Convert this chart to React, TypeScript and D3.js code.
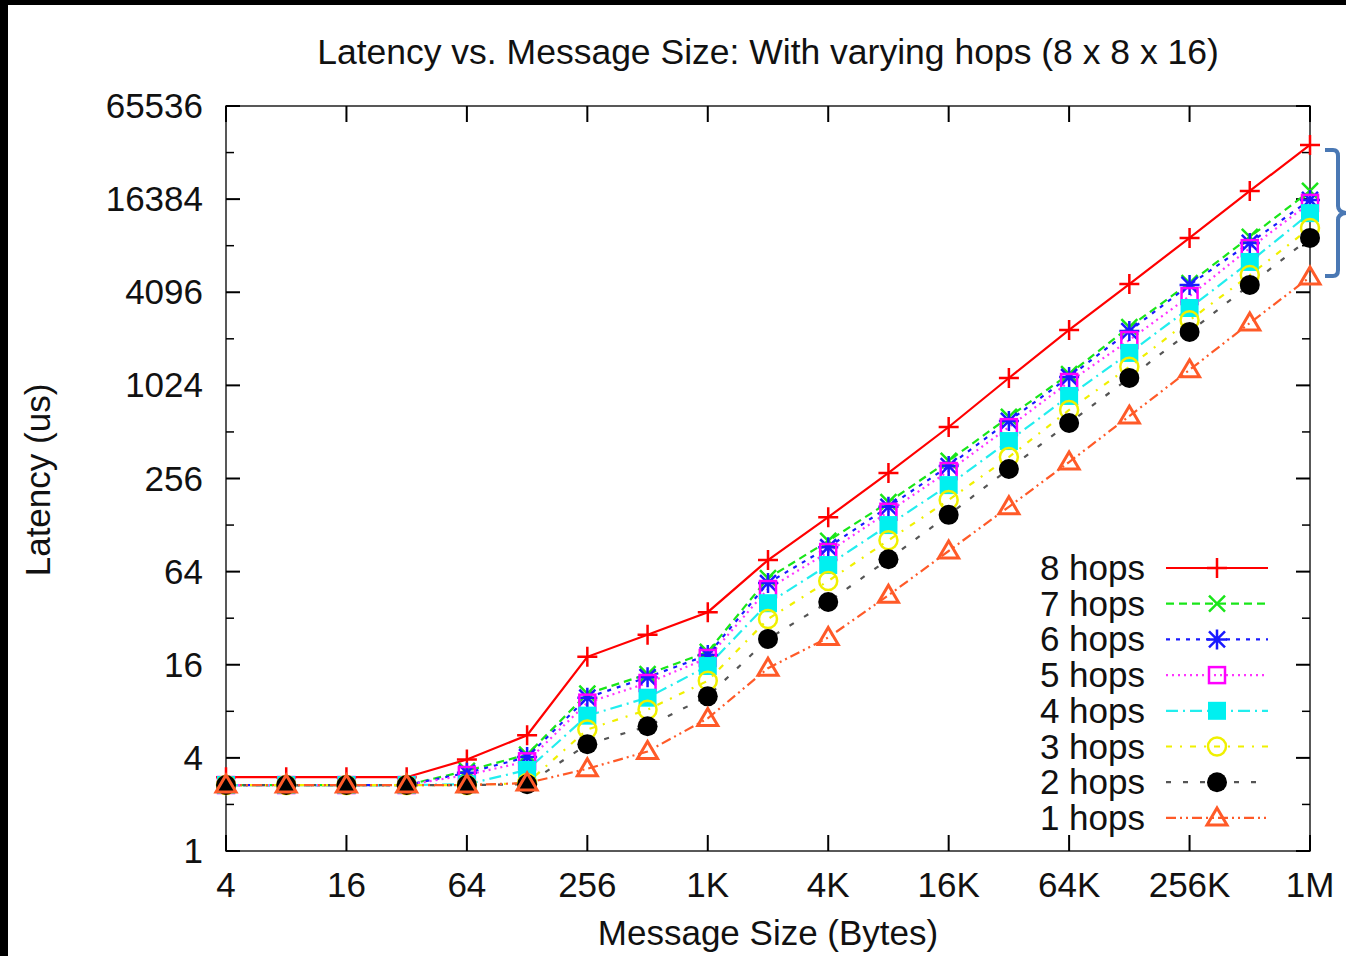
import React from "react";
import * as d3 from "d3";

const sizes = [4, 8, 16, 32, 64, 128, 256, 512, 1024, 2048, 4096, 8192, 16384, 32768, 65536, 131072, 262144, 524288, 1048576];
const xTickValues = [4, 16, 64, 256, 1024, 4096, 16384, 65536, 262144, 1048576];
const xTickLabels = ["4", "16", "64", "256", "1K", "4K", "16K", "64K", "256K", "1M"];
const yTickValues = [1, 4, 16, 64, 256, 1024, 4096, 16384, 65536];
const yMinorValues = [2, 8, 32, 128, 512, 2048, 8192, 32768];

const hops8 = [3.0, 3.0, 3.0, 3.0, 3.9, 5.6, 18, 25, 35, 76, 144, 278, 551, 1143, 2336, 4630, 9200, 18500, 36700];
const hops7 = [2.67, 2.67, 2.67, 2.67, 3.3, 4.2, 10.4, 13.9, 19.4, 58, 101, 180, 333, 640, 1212, 2440, 4700, 9330, 18500];
const hops6 = [2.67, 2.67, 2.67, 2.67, 3.2, 4.05, 9.8, 13.3, 18.5, 54, 92, 168, 308, 603, 1160, 2300, 4570, 8530, 16200];
const hops5 = [2.67, 2.67, 2.67, 2.67, 3.1, 3.8, 9.1, 12.2, 17.7, 49.4, 85.7, 156, 286, 550, 1077, 2010, 3870, 7900, 15500];
const hops4 = [2.67, 2.67, 2.67, 2.67, 2.7, 3.34, 7.5, 9.8, 15.7, 40, 70.6, 128, 232, 447, 875, 1660, 3240, 6430, 13300];
const hops3 = [2.67, 2.67, 2.67, 2.67, 2.67, 2.75, 6.1, 8.2, 12.6, 31.6, 55.7, 102, 186, 352, 710, 1350, 2700, 5290, 10650];
const hops2 = [2.67, 2.67, 2.67, 2.67, 2.67, 2.7, 4.9, 6.4, 10, 23.5, 40.7, 77, 149, 295, 585, 1144, 2270, 4570, 9200];
const hops1 = [2.67, 2.67, 2.67, 2.67, 2.67, 2.75, 3.4, 4.4, 7.2, 15.2, 24, 45, 87, 168, 327, 648, 1290, 2590, 5140];

const seriesNames = ["8 hops", "7 hops", "6 hops", "5 hops", "4 hops", "3 hops", "2 hops", "1 hops"];
const seriesValues = [hops8, hops7, hops6, hops5, hops4, hops3, hops2, hops1];
const lineColors = ["#ff0000", "#19e619", "#1a1aff", "#ff33ff", "#22eeee", "#f0f000", "#555555", "#ff5a28"];
const markerColors = ["#ff0000", "#19e619", "#1a1aff", "#ff00ff", "#00f0f0", "#f0f000", "#000000", "#ff5a28"];
const dashes = ["", "8,5", "4,6", "2,4", "12,5,2,5", "6,8,2,8", "5,12", "10,4,2,4,2,4"];
const markerTypes = ["plus", "cross", "star", "square", "fsquare", "circle", "fcircle", "triangle"];

const FONT = "'Liberation Sans', Arial, Helvetica, sans-serif";
const FS = 35;

function Marker({ type, x, y, color }: { type: string; x: number; y: number; color: string }) {
  const s = 8;
  const sw = 2.5;
  switch (type) {
    case "plus":
      return <path d={`M${x - 10},${y}H${x + 10}M${x},${y - 10}V${y + 10}`} stroke={color} strokeWidth={sw} fill="none" />;
    case "cross":
      return <path d={`M${x - s},${y - s}L${x + s},${y + s}M${x - s},${y + s}L${x + s},${y - s}`} stroke={color} strokeWidth={sw} fill="none" />;
    case "star":
      return <path d={`M${x - s},${y - s}L${x + s},${y + s}M${x - s},${y + s}L${x + s},${y - s}M${x - 10},${y}H${x + 10}M${x},${y - 10}V${y + 10}`} stroke={color} strokeWidth={sw} fill="none" />;
    case "square":
      return <rect x={x - 8} y={y - 8} width={16} height={16} stroke={color} strokeWidth={sw} fill="none" />;
    case "fsquare":
      return <rect x={x - 9} y={y - 9} width={18} height={18} fill={color} />;
    case "circle":
      return <circle cx={x} cy={y} r={9} stroke={color} strokeWidth={sw} fill="none" />;
    case "fcircle":
      return <circle cx={x} cy={y} r={10} fill={color} />;
    case "triangle":
      return <path d={`M${x},${y - 10}L${x + 10},${y + 7}L${x - 10},${y + 7}Z`} stroke={color} strokeWidth={sw + 0.5} fill="none" />;
  }
  return null;
}

export default function App() {
  const W = 1346, H = 956;
  const left = 226, right = 1310, top = 106, bottom = 851;
  const x = d3.scaleLog().base(2).domain([4, 1048576]).range([left, right]);
  const y = d3.scaleLog().base(2).domain([1, 65536]).range([bottom, top]);
  const line = d3.line<[number, number]>().x((d) => x(d[0])).y((d) => y(d[1]));

  const order = [0, 1, 2, 3, 4, 5, 6, 7];
  const legendX = 1145, legendY0 = 568, legendDy = 35.7;

  return (
    <svg width={W} height={H} style={{ position: "absolute", left: 0, top: 0, background: "#fff" }} fontFamily={FONT}>
      <rect x={0} y={0} width={W} height={H} fill="#fff" />
      <rect x={0} y={0} width={W} height={5} fill="#000" />
      <rect x={0} y={0} width={8} height={H} fill="#000" />

      <text x={768} y={64} fontSize={35.5} textAnchor="middle" fill="#111">Latency vs. Message Size: With varying hops (8 x 8 x 16)</text>

      <rect x={left} y={top} width={right - left} height={bottom - top} fill="none" stroke="#222" strokeWidth={1.5} />

      {yTickValues.map((v) => (
        <g key={"y" + v}>
          <line x1={left} x2={left + 14} y1={y(v)} y2={y(v)} stroke="#000" strokeWidth={2} />
          <line x1={right} x2={right - 14} y1={y(v)} y2={y(v)} stroke="#000" strokeWidth={2} />
          <text x={203} y={y(v) + 12} fontSize={FS} textAnchor="end" fill="#111">{v}</text>
        </g>
      ))}
      {yMinorValues.map((v) => (
        <g key={"ym" + v}>
          <line x1={left} x2={left + 8} y1={y(v)} y2={y(v)} stroke="#000" strokeWidth={1.5} />
          <line x1={right} x2={right - 8} y1={y(v)} y2={y(v)} stroke="#000" strokeWidth={1.5} />
        </g>
      ))}
      {xTickValues.map((v, i) => (
        <g key={"x" + v}>
          <line x1={x(v)} x2={x(v)} y1={bottom} y2={bottom - 16} stroke="#000" strokeWidth={2} />
          <line x1={x(v)} x2={x(v)} y1={top} y2={top + 16} stroke="#000" strokeWidth={2} />
          <text x={x(v)} y={897} fontSize={FS} textAnchor="middle" fill="#111">{xTickLabels[i]}</text>
        </g>
      ))}

      <text transform={`translate(50,480) rotate(-90)`} fontSize={FS} textAnchor="middle" fill="#111">Latency (us)</text>
      <text x={768} y={945} fontSize={35} textAnchor="middle" fill="#111">Message Size (Bytes)</text>

      {order.map((i) => (
        <path key={"l" + i} d={line(sizes.map((s, k) => [s, seriesValues[i][k]] as [number, number])) || ""}
          fill="none" stroke={lineColors[i]} strokeWidth={2.2} strokeDasharray={dashes[i] || undefined} />
      ))}
      {order.map((i) => (
        <g key={"m" + i}>
          {sizes.map((s, k) => (
            <Marker key={k} type={markerTypes[i]} x={x(s)} y={y(seriesValues[i][k])} color={markerColors[i]} />
          ))}
        </g>
      ))}

      {seriesNames.map((n, i) => {
        const ly = legendY0 + i * legendDy;
        return (
          <g key={"lg" + i}>
            <text x={legendX} y={ly + 12} fontSize={FS} textAnchor="end" fill="#111">{n}</text>
            <line x1={1166} x2={1268} y1={ly} y2={ly} stroke={lineColors[i]} strokeWidth={2.2} strokeDasharray={dashes[i] || undefined} />
            <Marker type={markerTypes[i]} x={1217} y={ly} color={markerColors[i]} />
          </g>
        );
      })}

      <path d="M1325,150 H1333 Q1338,150 1338,156 V206 Q1338,212 1346,213 M1346,213 Q1338,214 1338,220 V270 Q1338,276 1333,276 H1325" fill="none" stroke="#4a78b4" strokeWidth={4} />
    </svg>
  );
}
